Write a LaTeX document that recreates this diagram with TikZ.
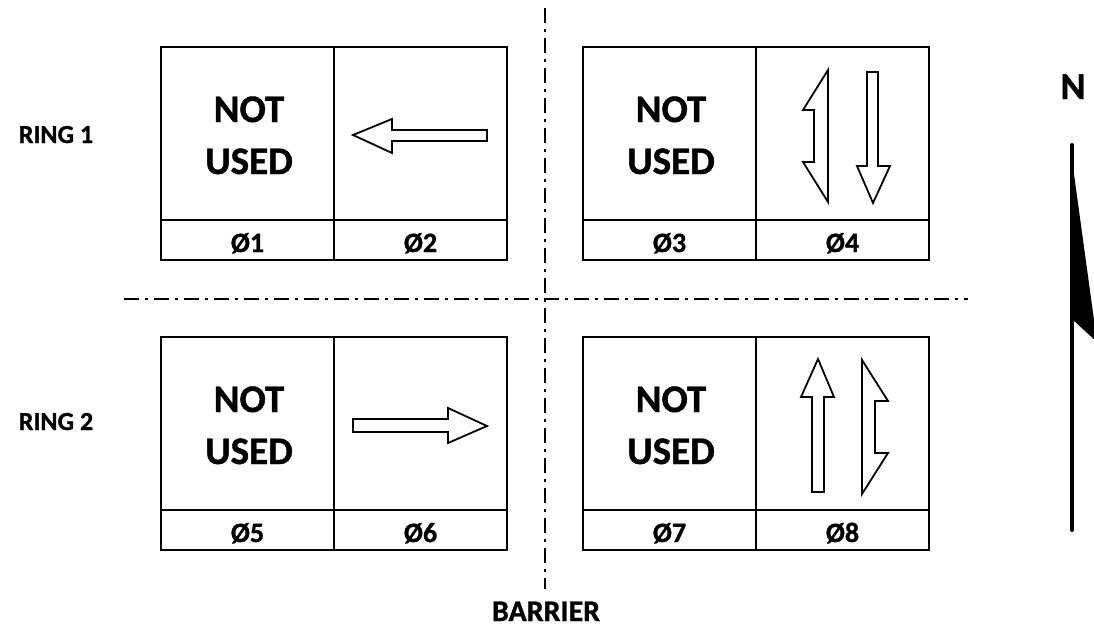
\documentclass[tikz,border=0pt]{standalone}
\usepackage{fontspec}
\setmainfont{Carlito}[BoldFeatures={FakeBold=1}]
\usetikzlibrary{calc}
\tikzset{
  box/.style={draw=black, line width=2.6pt, line join=miter},
  arr/.style={draw=black, fill=white, line width=1.8pt, line join=miter},
  barrier/.style={draw=black, line width=2pt, dash pattern=on 15pt off 6pt on 3pt off 6pt},
  big/.style={anchor=base, font=\fontsize{39}{46}\selectfont\bfseries},
  ph/.style={anchor=base, font=\fontsize{28}{32}\selectfont\bfseries},
  ring/.style={anchor=base, font=\fontsize{26}{30}\selectfont\bfseries},
}

\begin{document}
\begin{tikzpicture}[x=1pt,y=-1pt]
  \useasboundingbox (0,0) rectangle (1094,635);

  % barrier and ring separation
  \draw[barrier] (545,8) -- (545,589);
  \draw[barrier] (124,299) -- (968,299);

  % phase boxes: left x, top y, phases
  \foreach \x/\y/\a/\b in {161/47/1/2, 583/47/3/4, 161/337/5/6, 583/337/7/8}{
    \draw[box] (\x,\y) rectangle ++(346,213);
    \draw[box] (\x,\y+173) -- ++(346,0);
    \draw[box] (\x+173,\y) -- ++(0,213);
    \node[big] (not\a) at (\x+88,\y+75) {NOT};
    \node[big] (used\a) at (\x+88,\y+127) {USED};
    \node[ph] (ph\a) at (\x+86.5,\y+205) {Ø\a};
    \node[ph] (ph\b) at (\x+259.5,\y+205) {Ø\b};
  }

  \node[ring] (ring1) at (56,143) {RING 1};
  \node[ring] (ring2) at (56,430) {RING 2};
  \node[ring, font=\fontsize{30}{34}\selectfont\bfseries] (barlab) at (546,621) {BARRIER};

  % movements
  \draw[arr] (353,135) -- (392,119) -- (392,130) -- (487,130) -- (487,141) -- (392,141) -- (392,153) -- cycle;
  \draw[arr] (487,426) -- (448,408) -- (448,419) -- (353,419) -- (353,432) -- (448,432) -- (448,443) -- cycle;
  \draw[arr] (828,70) -- (803,110) -- (814,110) -- (814,162) -- (803,162) -- (828,202) -- cycle;
  \draw[arr] (873,203) -- (857,166) -- (867,166) -- (867,72) -- (878,72) -- (878,166) -- (890,166) -- cycle;
  \draw[arr] (818,359) -- (834,397) -- (824,397) -- (824,492) -- (812,492) -- (812,397) -- (801,397) -- cycle;
  \draw[arr] (862,360) -- (888,401) -- (875,401) -- (875,453) -- (888,453) -- (862,494) -- cycle;

  % north arrow
  \node[big, font=\fontsize{38}{44}\selectfont\bfseries] (north) at (1073,99) {N};
  \draw[line width=4pt, line cap=round] (1072,145) -- (1072,530);
  \fill (1070,145) -- (1097,342) -- (1072,319) -- cycle;
\end{tikzpicture}
\end{document}
